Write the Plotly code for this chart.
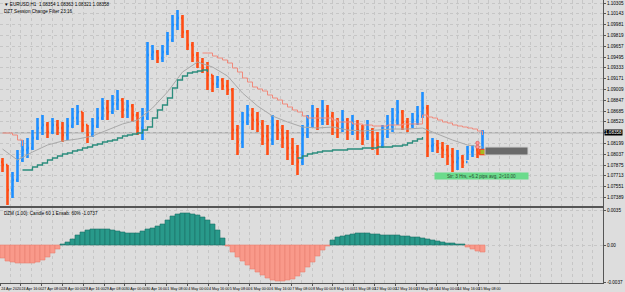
import plotly.graph_objects as go

# ---------------- data ----------------
opens = [1.07920, 1.07875, 1.07500, 1.07650, 1.07950, 1.08100, 1.08130, 1.08280, 1.08430, 1.08475,
         1.08370, 1.08475, 1.08430, 1.08325, 1.08460, 1.08580, 1.08670, 1.08475, 1.08325, 1.08460,
         1.08580, 1.08730, 1.08670, 1.08790, 1.08850, 1.08700, 1.08760, 1.08625, 1.08430, 1.08580,
         1.09525, 1.09570, 1.09480, 1.09570, 1.09750, 1.09975, 1.10080, 1.09870, 1.09675, 1.09525,
         1.09420, 1.09330, 1.09225, 1.09090, 1.09150, 1.09060, 1.09000, 1.08400, 1.08220, 1.08520,
         1.08625, 1.08550, 1.08490, 1.08310, 1.08250, 1.08475, 1.08400, 1.08280, 1.08130, 1.08070,
         1.07920, 1.08325, 1.08490, 1.08610, 1.08550, 1.08700, 1.08610, 1.08475, 1.08430, 1.08550,
         1.08430, 1.08475, 1.08400, 1.08310, 1.08400, 1.08250, 1.08160, 1.08310, 1.08460, 1.08550,
         1.08670, 1.08520, 1.08475, 1.08550, 1.08610, 1.08730, 1.08160, 1.08175, 1.08130, 1.08100,
         1.08010, 1.07920, 1.07980, 1.07920, 1.08070, 1.08100, 1.08055]
highs = [1.07980, 1.07875, 1.07770, 1.08100, 1.08250, 1.08280, 1.08400, 1.08580, 1.08625, 1.08520,
         1.08580, 1.08550, 1.08520, 1.08580, 1.08730, 1.08775, 1.08670, 1.08475, 1.08580, 1.08730,
         1.08880, 1.08850, 1.08925, 1.09000, 1.08880, 1.08850, 1.08790, 1.08670, 1.08730, 1.09720,
         1.09675, 1.09600, 1.09675, 1.09870, 1.10125, 1.10200, 1.10125, 1.09900, 1.09720, 1.09570,
         1.09480, 1.09420, 1.09225, 1.09210, 1.09180, 1.09150, 1.09030, 1.08475, 1.08670, 1.08775,
         1.08730, 1.08670, 1.08550, 1.08475, 1.08625, 1.08550, 1.08475, 1.08400, 1.08280, 1.08175,
         1.08475, 1.08625, 1.08775, 1.08730, 1.08850, 1.08775, 1.08670, 1.08580, 1.08700, 1.08580,
         1.08625, 1.08550, 1.08475, 1.08550, 1.08430, 1.08370, 1.08475, 1.08625, 1.08730, 1.08850,
         1.08700, 1.08580, 1.08655, 1.08760, 1.08970, 1.08775, 1.08280, 1.08250, 1.08220, 1.08175,
         1.08130, 1.08100, 1.08025, 1.08160, 1.08175, 1.08160, 1.08400]
lows = [1.07770, 1.07275, 1.07380, 1.07620, 1.07920, 1.07980, 1.08100, 1.08250, 1.08325, 1.08280,
        1.08340, 1.08325, 1.08220, 1.08250, 1.08430, 1.08475, 1.08370, 1.08205, 1.08295, 1.08430,
        1.08550, 1.08550, 1.08640, 1.08700, 1.08580, 1.08580, 1.08520, 1.08325, 1.08250, 1.08550,
        1.09450, 1.09405, 1.09420, 1.09525, 1.09720, 1.09900, 1.09780, 1.09600, 1.09420, 1.09330,
        1.09255, 1.09000, 1.08970, 1.09030, 1.09000, 1.08925, 1.08250, 1.08025, 1.08130, 1.08475,
        1.08400, 1.08370, 1.08175, 1.08025, 1.08175, 1.08250, 1.08130, 1.07950, 1.07875, 1.07725,
        1.07875, 1.08280, 1.08430, 1.08400, 1.08475, 1.08475, 1.08325, 1.08280, 1.08370, 1.08250,
        1.08325, 1.08250, 1.08175, 1.08250, 1.08100, 1.08025, 1.08130, 1.08280, 1.08370, 1.08475,
        1.08400, 1.08370, 1.08430, 1.08475, 1.08580, 1.07995, 1.08070, 1.08055, 1.07980, 1.07875,
        1.07770, 1.07800, 1.07830, 1.07950, 1.07995, 1.07980, 1.08025]
closes = [1.07875, 1.07500, 1.07650, 1.07950, 1.08100, 1.08130, 1.08280, 1.08430, 1.08475, 1.08370,
          1.08475, 1.08430, 1.08325, 1.08460, 1.08580, 1.08670, 1.08475, 1.08325, 1.08460, 1.08580,
          1.08730, 1.08670, 1.08790, 1.08850, 1.08700, 1.08760, 1.08625, 1.08430, 1.08580, 1.09525,
          1.09570, 1.09480, 1.09570, 1.09750, 1.09975, 1.10080, 1.09870, 1.09675, 1.09525, 1.09420,
          1.09330, 1.09225, 1.09090, 1.09150, 1.09060, 1.09000, 1.08400, 1.08220, 1.08520, 1.08625,
          1.08550, 1.08490, 1.08310, 1.08250, 1.08475, 1.08400, 1.08280, 1.08130, 1.08070, 1.07920,
          1.08325, 1.08490, 1.08610, 1.08550, 1.08700, 1.08610, 1.08475, 1.08430, 1.08550, 1.08430,
          1.08475, 1.08400, 1.08310, 1.08400, 1.08250, 1.08160, 1.08310, 1.08460, 1.08550, 1.08670,
          1.08520, 1.08475, 1.08550, 1.08610, 1.08730, 1.08160, 1.08175, 1.08130, 1.08100, 1.08010,
          1.07920, 1.07980, 1.07920, 1.08070, 1.08100, 1.08055, 1.08358]
bars = list(range(len(closes)))

ma_bars = list(range(0, 97, 3))
ma_vals = [1.08115, 1.07950, 1.08070, 1.08175, 1.08235, 1.08265, 1.08310, 1.08400, 1.08490, 1.08550,
           1.08730, 1.08970, 1.09270, 1.09420, 1.09345, 1.09210, 1.08955, 1.08760, 1.08610, 1.08520,
           1.08445, 1.08430, 1.08445, 1.08400, 1.08385, 1.08400, 1.08415, 1.08415, 1.08430, 1.08340,
           1.08250, 1.08175, 1.08145]

res1_bars = list(range(0, 5))
res1_vals = [1.08355, 1.08355, 1.08325, 1.08250, 1.08160]
res2_bars = list(range(40, 97))
res2_vals = [1.09555, 1.09555, 1.09510, 1.09480, 1.09450, 1.09405, 1.09330, 1.09270, 1.09180, 1.09120,
             1.09045, 1.09015, 1.08985, 1.08925, 1.08880, 1.08850, 1.08790, 1.08745, 1.08700, 1.08670,
             1.08610, 1.08580, 1.08580, 1.08580, 1.08580, 1.08580, 1.08550, 1.08520, 1.08520, 1.08520,
             1.08490, 1.08490, 1.08475, 1.08475, 1.08460, 1.08460, 1.08460, 1.08475, 1.08475, 1.08475,
             1.08490, 1.08490, 1.08490, 1.08490, 1.08625, 1.08595, 1.08580, 1.08550, 1.08520, 1.08505,
             1.08475, 1.08460, 1.08445, 1.08430, 1.08415, 1.08385, 1.08325]
sup1_bars = list(range(4, 42))
sup1_vals = [1.07800, 1.07800, 1.07845, 1.07875, 1.07905, 1.07950, 1.07980, 1.08010, 1.08040, 1.08055,
             1.08085, 1.08100, 1.08130, 1.08145, 1.08175, 1.08190, 1.08220, 1.08235, 1.08250, 1.08280,
             1.08310, 1.08325, 1.08340, 1.08355, 1.08400, 1.08445, 1.08580, 1.08700, 1.08775, 1.08880,
             1.09030, 1.09150, 1.09210, 1.09255, 1.09270, 1.09285, 1.09300, 1.09270]
sup2_bars = list(range(59, 85))
sup2_vals = [1.07980, 1.08010, 1.08040, 1.08055, 1.08070, 1.08085, 1.08085, 1.08100, 1.08100, 1.08100,
             1.08115, 1.08115, 1.08115, 1.08130, 1.08130, 1.08130, 1.08145, 1.08145, 1.08145, 1.08160,
             1.08160, 1.08175, 1.08205, 1.08235, 1.08265, 1.08295]

osc_vals = [-0.0013, -0.0016, -0.0017, -0.0018, -0.0018, -0.0018, -0.0018, -0.0017, -0.0015, -0.0012,
            -0.0008, -0.0004, 0.0001, 0.0003, 0.0006, 0.0010, 0.0013, 0.0015, 0.0016, 0.0016,
            0.0016, 0.0016, 0.0015, 0.0014, 0.0013, 0.0012, 0.0012, 0.0012, 0.0014, 0.0016,
            0.0017, 0.0019, 0.0021, 0.0025, 0.0029, 0.0031, 0.0032, 0.0032, 0.0031, 0.0030,
            0.0028, 0.0025, 0.0021, 0.0015, 0.0007, -0.0001, -0.0007, -0.0012, -0.0016, -0.0020,
            -0.0024, -0.0027, -0.0030, -0.0033, -0.0035, -0.0036, -0.0036, -0.0035, -0.0034, -0.0031,
            -0.0027, -0.0022, -0.0017, -0.0011, -0.0005, -0.0001, 0.0005, 0.0008, 0.0009, 0.0010,
            0.0011, 0.0012, 0.0012, 0.0012, 0.0011, 0.0011, 0.0010, 0.0010, 0.0010, 0.0010,
            0.0009, 0.0009, 0.0008, 0.0008, 0.0007, 0.0006, 0.0005, 0.0004, 0.0003, 0.0002,
            0.0002, 0.0001, 0.0001, -0.0002, -0.0004, -0.0006, -0.0007]

price_ticks = [1.10305, 1.10143, 1.09981, 1.09819, 1.09657, 1.09495, 1.09333, 1.09171, 1.09009, 1.08847,
               1.08685, 1.08523, 1.08361, 1.08199, 1.08037, 1.07875, 1.07713, 1.07551, 1.07389]
osc_ticks = [0.0035, 0.0, -0.0037]
osc_ticktext = ["0.0035", "0.00", "-0.0037"]

time_labels = ["24 Apr 2020", "24 Apr 16:00", "27 Apr 08:00", "28 Apr 00:00", "28 Apr 16:00",
               "29 Apr 08:00", "30 Apr 00:00", "30 Apr 16:00", "1 May 08:00", "4 May 00:00",
               "4 May 16:00", "5 May 08:00", "6 May 00:00", "6 May 16:00", "7 May 08:00",
               "8 May 00:00", "8 May 16:00", "11 May 08:00", "12 May 00:00", "12 May 16:00",
               "13 May 08:00", "14 May 00:00", "14 May 16:00", "15 May 08:00"]
bars_per_label = 4.16

bid = 1.08358
signal_dots_bar = [95, 95]
signal_dots_val = [1.08205, 1.08145]
signal_square_bar = [96]
signal_square_val = [1.08070]
proj_start, proj_end = 96.5, 105.1
proj_low, proj_high = 1.08025, 1.08145
stats_text = "Str: 3 Hrs, +6.2 pips avg, 2<10.00"
stats_bar, stats_val = 95.8, 1.07710

title_main = "\u25bc EURUSD,H1  1.08354 1.08363 1.08321 1.08358"
title_sub = "DZT Session Change Filter 23:16"
title_osc = "DZM (1.00): Candle 60 1 Ensab: 60% -1.0737"

# ---------------- style ----------------
BG = "#dddddd"
GRID = "#c6c6c6"
FRAME = "#555555"
UP = "#1e8fff"
DN = "#ff4d14"
TEAL = "#28998a"
TEAL_D = "#1b6f64"
SALMON = "#f9998a"
SALMON_D = "#e8806f"
FONT = "Liberation Sans, Arial, sans-serif"
FS = 4.6
FSX = 3.7

fig = go.Figure()
fig.add_trace(go.Ohlc(
    x=bars, open=opens, high=highs, low=lows, close=closes,
    increasing=dict(line=dict(color=UP, width=2.6)),
    decreasing=dict(line=dict(color=DN, width=2.6)),
    tickwidth=0.3, xaxis="x", yaxis="y", showlegend=False, hoverinfo="skip"))
fig.add_trace(go.Scatter(x=ma_bars, y=ma_vals, mode="lines",
                         line=dict(color="#a9a9a9", width=1), xaxis="x", yaxis="y", hoverinfo="skip"))
for bx, vy in ((res1_bars, res1_vals), (res2_bars, res2_vals)):
    fig.add_trace(go.Scatter(x=bx, y=vy, mode="lines", line=dict(color="#f08a7c", width=1, shape="hv"),
                             xaxis="x", yaxis="y", hoverinfo="skip"))
for bx, vy in ((sup1_bars, sup1_vals), (sup2_bars, sup2_vals)):
    fig.add_trace(go.Scatter(x=bx, y=vy, mode="lines", line=dict(color="#2a8c7c", width=1.3, shape="hv"),
                             xaxis="x", yaxis="y", hoverinfo="skip"))
fig.add_trace(go.Scatter(x=signal_dots_bar, y=signal_dots_val, mode="markers",
                         marker=dict(color="#ff9a9a", size=3.5, line=dict(color="#e04040", width=0.6)),
                         xaxis="x", yaxis="y", hoverinfo="skip"))
fig.add_trace(go.Scatter(x=signal_square_bar, y=signal_square_val, mode="markers",
                         marker=dict(symbol="square", color="#a8b820", size=5.5, line=dict(color="#ff3a10", width=1.2)),
                         xaxis="x", yaxis="y", hoverinfo="skip"))

fig.add_trace(go.Bar(
    x=bars, y=osc_vals,
    marker=dict(color=[TEAL if v >= 0 else SALMON for v in osc_vals],
                line=dict(color=[TEAL_D if v >= 0 else SALMON_D for v in osc_vals], width=0.6)),
    xaxis="x2", yaxis="y2", hoverinfo="skip", showlegend=False))

label_pos = [-0.48 + bars_per_label * k for k in range(len(time_labels))]

xcommon = dict(range=[-0.5, 120.1], showgrid=True, gridcolor=GRID, griddash="dot", gridwidth=1,
               tickmode="array", tickvals=label_pos, zeroline=False,
               minor=dict(tick0=-0.48, dtick=bars_per_label / 2, showgrid=True, gridcolor=GRID,
                          griddash="dot", gridwidth=1),
               showline=True, mirror=True, linecolor=FRAME, linewidth=1, fixedrange=True)

# the bid tag covers the price tick that sits under it
price_text = ["" if abs(v - bid) < 0.0005 else f"{v:.5f}" for v in price_ticks]

fig.update_layout(
    width=625, height=292, margin=dict(l=0, r=22, t=0, b=9),
    paper_bgcolor=BG, plot_bgcolor=BG, showlegend=False, bargap=0,
    font=dict(family=FONT, size=FS, color="#000000"),
    xaxis=dict(**xcommon, anchor="y", showticklabels=False, ticks="",
               rangeslider=dict(visible=False)),
    xaxis2=dict(**xcommon, anchor="y2", matches="x", ticktext=time_labels, ticks="outside",
                ticklen=2, tickcolor=FRAME, ticklabelshift=11, ticklabelstandoff=0, tickangle=0,
                tickfont=dict(size=FSX, family=FONT, color="#000000")),
    yaxis=dict(domain=[0.272, 1], range=[1.0726, 1.1035], side="right", anchor="x",
               tickmode="array", tickvals=price_ticks, ticktext=price_text,
               showgrid=True, gridcolor=GRID, griddash="dot", zeroline=False, ticks="outside",
               ticklen=2, tickcolor=FRAME, showline=True, mirror=True, linecolor=FRAME,
               tickfont=dict(size=FS, family=FONT, color="#000000"), fixedrange=True),
    yaxis2=dict(domain=[0, 0.265], range=[-0.0038, 0.0037], side="right", anchor="x2",
                tickmode="array", tickvals=osc_ticks, ticktext=osc_ticktext,
                showgrid=True, gridcolor=GRID, griddash="dot", zeroline=False, ticks="outside",
                ticklen=2, tickcolor=FRAME, showline=True, mirror=True, linecolor=FRAME,
                tickfont=dict(size=FS, family=FONT, color="#000000"), fixedrange=True),
    shapes=[
        dict(type="line", xref="paper", x0=0, x1=1, yref="y", y0=bid, y1=bid,
             line=dict(color="#9a9a9a", width=1), layer="below"),
        dict(type="rect", xref="x", yref="y", x0=proj_start, x1=proj_end, y0=proj_low, y1=proj_high,
             fillcolor="#6a6a6a", line=dict(color="#d0d0d0", width=1)),
    ],
    annotations=[
        dict(xref="paper", yref="paper", x=0.004, y=1.0, xanchor="left", yanchor="top",
             text=title_main, showarrow=False, font=dict(size=FS, family=FONT, color="#000000")),
        dict(xref="paper", yref="paper", x=0.004, y=0.975, xanchor="left", yanchor="top",
             text=title_sub, showarrow=False, font=dict(size=FS, family=FONT, color="#000000")),
        dict(xref="paper", yref="paper", x=0.004, y=0.262, xanchor="left", yanchor="top",
             text=title_osc, showarrow=False, font=dict(size=FS, family=FONT, color="#000000")),
        dict(xref="paper", yref="y", x=1.0, y=bid, xanchor="left", yanchor="middle", xshift=1,
             text=f"{bid:.5f}", showarrow=False, bgcolor="#000000", borderpad=0,
             font=dict(size=FS, family=FONT, color="#ffffff")),
        dict(xref="x", yref="y", x=stats_bar, y=stats_val, xanchor="center", yanchor="middle",
             text=stats_text, showarrow=False, bgcolor="#6bdb8c", width=93, height=6, borderpad=0,
             font=dict(size=FS, family=FONT, color="#2a4a30")),
    ],
)

fig.write_html("out.html", config={"displayModeBar": False, "staticPlot": True})
